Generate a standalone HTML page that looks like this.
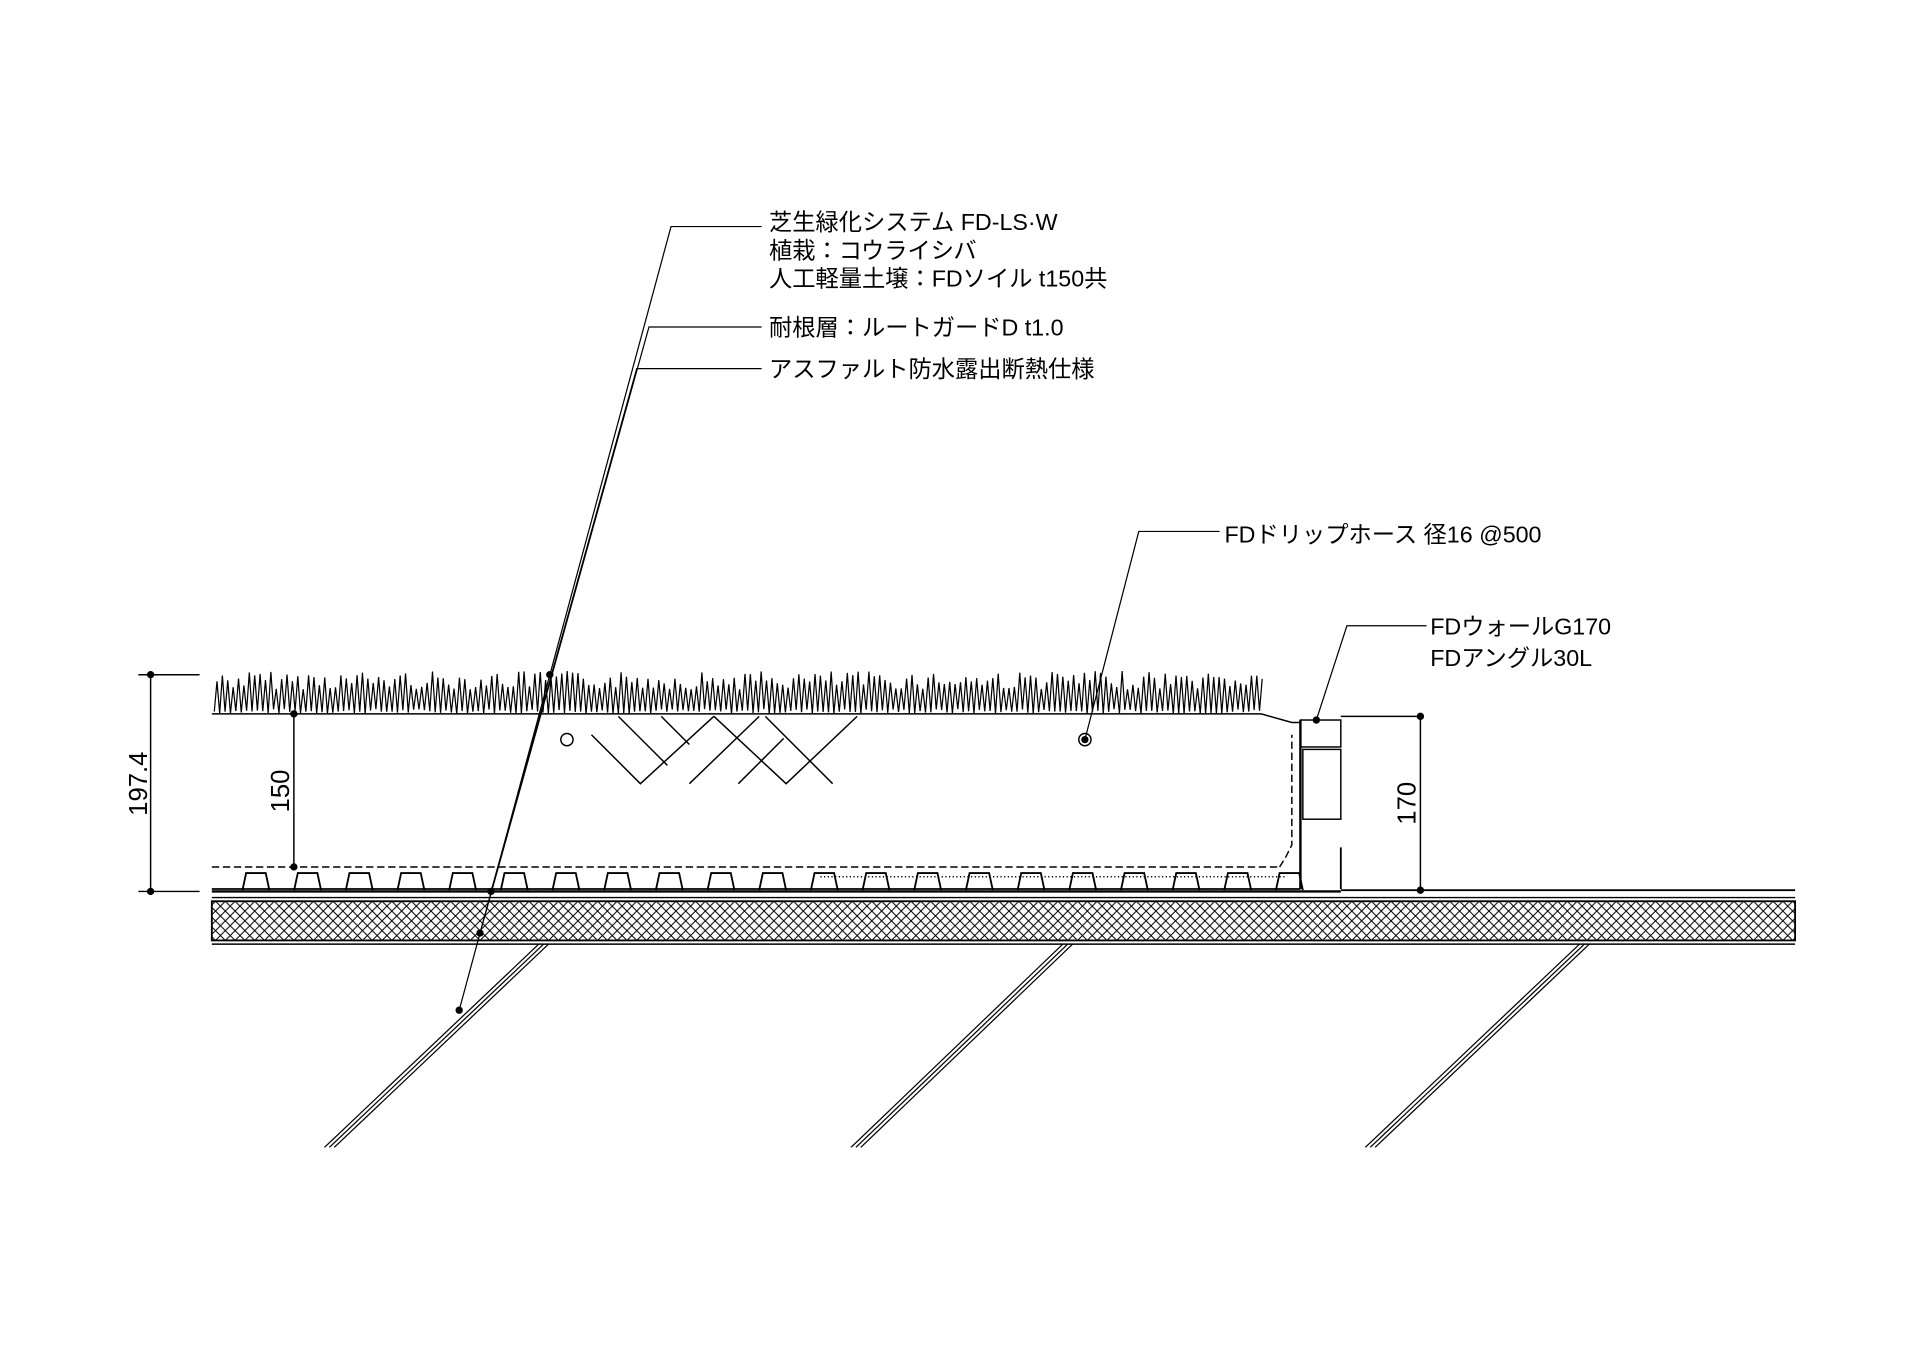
<!DOCTYPE html>
<html><head><meta charset="utf-8">
<style>
html,body{margin:0;padding:0;background:#fff;}
svg{display:block;}
text{font-family:"Liberation Sans","Noto Sans CJK JP",sans-serif;fill:#000;}
</style></head>
<body>
<svg id="s" width="1920" height="1358" viewBox="0 0 1568 1109" xmlns="http://www.w3.org/2000/svg">
<defs>
<pattern id="xh" width="8" height="8" patternUnits="userSpaceOnUse">
<path d="M0,0 L8,8 M8,0 L0,8" stroke="#000" stroke-width="0.8"/>
</pattern>
</defs>
<g stroke="#000" fill="none" stroke-width="1.2">
<polyline points="173,583 1030,583 1055,590 1062,590"/>
<line x1="173" y1="728" x2="1095" y2="728" stroke-width="2"/>
<line x1="1095" y1="727" x2="1466" y2="727" stroke-width="1.5"/>
<rect x="173" y="736" width="1293" height="32" fill="url(#xh)" stroke-width="1.5"/>
<line x1="173" y1="733" x2="1466" y2="733"/>
<line x1="173" y1="771" x2="1466" y2="771"/>
<line x1="173" y1="708" x2="1045" y2="708" stroke-dasharray="6,3"/>
<polyline points="1045,708 1050,700 1055,690 1055,600" stroke-dasharray="6,3"/>
<line x1="670" y1="716" x2="1050" y2="716" stroke-dasharray="1,2"/>
<rect x="1062" y="588" width="33" height="22"/>
<rect x="1064" y="612" width="31" height="57"/>
<line x1="1062" y1="588" x2="1062" y2="726" stroke-width="2"/>
<line x1="1095" y1="692" x2="1095" y2="726" stroke-width="1.5"/>
<line x1="1095" y1="585" x2="1160" y2="585"/>
<circle cx="463" cy="604" r="5"/>
<circle cx="886" cy="604" r="5"/>
<polyline points="483,600 523,640 583,585"/>
<polyline points="505,585 545,625"/>
<polyline points="540,585 563,608"/>
<polyline points="583,585 642,640 700,585"/>
<polyline points="563,640 620,585"/>
<polyline points="603,640 640,603"/>
<polyline points="625,585 680,640"/>
<g id="sl"></g>
<line x1="123" y1="551" x2="123" y2="728"/>
<line x1="113" y1="551" x2="163" y2="551"/>
<line x1="113" y1="728" x2="163" y2="728"/>
<line x1="240" y1="583" x2="240" y2="708"/>
<line x1="1160" y1="585" x2="1160" y2="727"/>
<polyline points="622,185 548,185 375,825" stroke-width="1"/>
<polyline points="622,267 530,267 392,762" stroke-width="1"/>
<polyline points="622,301 520,301 401,728" stroke-width="1"/>
<polyline points="996,434 930,434 886,604" stroke-width="1"/>
<polyline points="1165,511 1100,511 1075,588" stroke-width="1"/>
<g id="grass" stroke-width="1"></g>
<g id="bumps" stroke-width="1.5"></g>
</g>
<g fill="#000">
<circle cx="123" cy="551" r="3"/><circle cx="123" cy="728" r="3"/>
<circle cx="240" cy="583" r="3"/><circle cx="240" cy="708" r="3"/>
<circle cx="1160" cy="585" r="3"/><circle cx="1160" cy="727" r="3"/>
<circle cx="449" cy="551" r="3"/><circle cx="401" cy="728" r="3"/>
<circle cx="392" cy="762" r="3"/><circle cx="375" cy="825" r="3"/>
<circle cx="886" cy="604" r="3"/><circle cx="1075" cy="588" r="3"/>
</g>
<g font-size="19">
<text x="628" y="188">芝生緑化システム FD-LS·W</text>
<text x="628" y="211">植栽：コウライシバ</text>
<text x="628" y="234">人工軽量土壌：FDソイル t150共</text>
<text x="628" y="274">耐根層：ルートガードD t1.0</text>
<text x="628" y="308">アスファルト防水露出断熱仕様</text>
<text x="1000" y="443">FDドリップホース 径16 @500</text>
<text x="1168" y="518">FDウォールG170</text>
<text x="1168" y="544">FDアングル30L</text>
</g>
<g font-size="21">
<text transform="translate(120,640) rotate(-90)" text-anchor="middle">197.4</text>
<text transform="translate(236,646) rotate(-90)" text-anchor="middle">150</text>
<text transform="translate(1156,656) rotate(-90)" text-anchor="middle">170</text>
</g>
</svg>
<script>
var NS="http://www.w3.org/2000/svg";
function el(p,t,a){var e=document.createElementNS(NS,t);for(var k in a)e.setAttribute(k,a[k]);p.appendChild(e);return e;}
var g=document.getElementById('grass');var pts=[];var seed=7;function r(){seed=(seed*9301+49297)%233280;return seed/233280;}
for(var x=175;x<1030;x+=4.4){pts.push(x+","+(583-r()*4));pts.push((x+2.2)+","+(548+r()*15));}
el(g,'polyline',{points:pts.join(' ')});
var b=document.getElementById('bumps');
for(var x=198;x<1045;x+=42.2){el(b,'path',{d:"M"+(x)+",727 L"+(x+3)+",713 L"+(x+19)+",713 L"+(x+22)+",727"});}
el(b,'line',{x1:173,y1:726,x2:1062,y2:726});
var s=document.getElementById('sl');
[[440,265],[868,695],[1290,1115]].forEach(function(p){for(var i=0;i<3;i++){el(s,'line',{x1:p[0]+i*4,y1:771,x2:p[1]+i*4,y2:937,'stroke-width':1});}});
</script>
</body></html>
